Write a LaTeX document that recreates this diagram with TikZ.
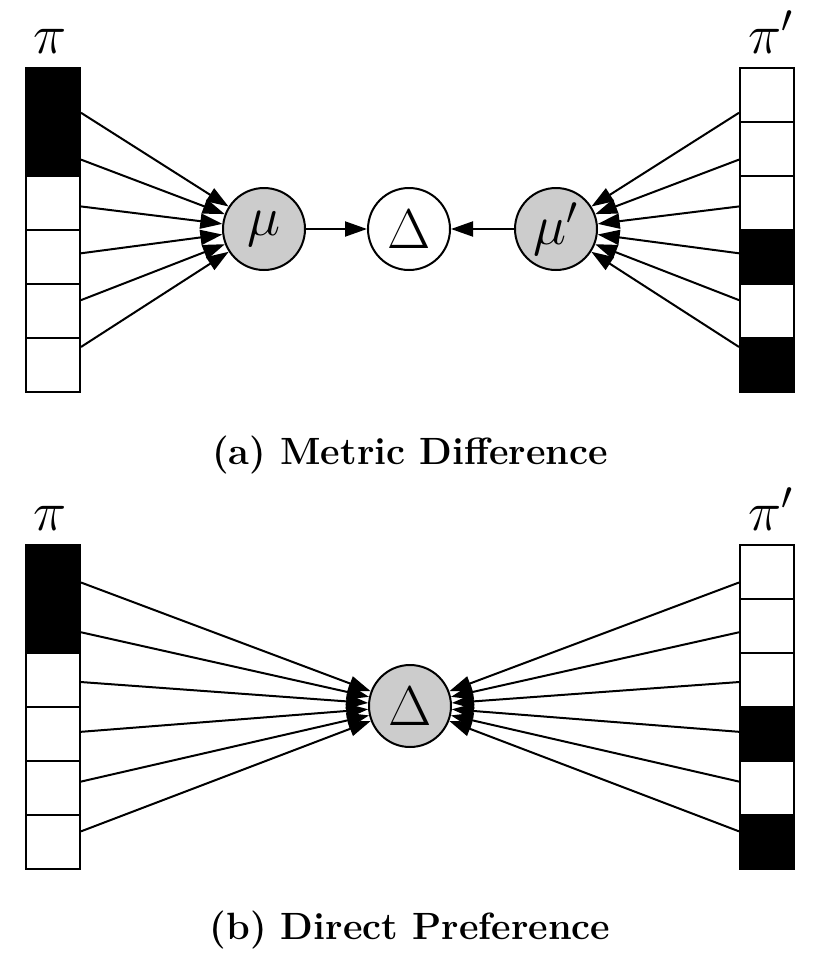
\documentclass[tikz,border=0pt]{standalone}
\usepackage{fix-cm}
\usepackage{amsmath}
\usepackage{amssymb}
\usepackage{tikz}
\usetikzlibrary{arrows.meta}
\tikzstyle{cell} = [draw, line width=1.0pt, minimum size=27pt, inner sep=0pt]
\tikzstyle{hit} = [cell, fill=black]
\tikzstyle{miss} = [cell, fill=white]
\tikzstyle{metric} = [circle, draw, line width=1.0pt, minimum size=41pt, inner sep=0pt, fill=gray!40, font=\fontsize{28}{32}\selectfont]
\tikzstyle{diff} = [metric, fill=white]
\tikzstyle{rank} = [anchor=base, inner sep=0pt, font=\fontsize{28}{32}\selectfont]
\tikzstyle{caption} = [anchor=base, font=\bfseries\fontsize{19}{23}\selectfont]
\tikzstyle{line} = [draw, -{Triangle[length=11pt,width=7.5pt]}, line width=1.0pt]

\begin{document}
\begin{tikzpicture}[x=0.5pt, y=-0.5pt]
	\useasboundingbox (0,0) rectangle (820,964);
	% -------------- (a) Metric Difference --------------
	\node[rank] (pia) at (50,53) {$\pi$};
	\node[hit]  (pa1) at (53,95)  {};
	\node[hit]  (pa2) at (53,149) {};
	\node[miss] (pa3) at (53,203) {};
	\node[miss] (pa4) at (53,257) {};
	\node[miss] (pa5) at (53,311) {};
	\node[miss] (pa6) at (53,365) {};
	\node[rank] (pipa) at (771,53) {$\pi'$};
	\node[miss] (qa1) at (767,95)  {};
	\node[miss] (qa2) at (767,149) {};
	\node[miss] (qa3) at (767,203) {};
	\node[hit]  (qa4) at (767,257) {};
	\node[miss] (qa5) at (767,311) {};
	\node[hit]  (qa6) at (767,365) {};
	\node[metric] (mu)  at (264,229) {$\mu$};
	\node[diff]   (da)  at (409,229) {$\Delta$};
	\node[metric] (mup) at (556,229) {$\mu'$};
	\draw[line] (pa1) -- (mu);
	\draw[line] (pa2) -- (mu);
	\draw[line] (pa3) -- (mu);
	\draw[line] (pa4) -- (mu);
	\draw[line] (pa5) -- (mu);
	\draw[line] (pa6) -- (mu);
	\draw[line] (qa1) -- (mup);
	\draw[line] (qa2) -- (mup);
	\draw[line] (qa3) -- (mup);
	\draw[line] (qa4) -- (mup);
	\draw[line] (qa5) -- (mup);
	\draw[line] (qa6) -- (mup);
	\draw[line] (mu)  -- (da);
	\draw[line] (mup) -- (da);
	\node[caption] (capa) at (410,464) {(a) Metric Difference};
	% -------------- (b) Direct Preference --------------
	\node[rank] (pib) at (50,530) {$\pi$};
	\node[hit]  (pb1) at (53,572) {};
	\node[hit]  (pb2) at (53,626) {};
	\node[miss] (pb3) at (53,680) {};
	\node[miss] (pb4) at (53,734) {};
	\node[miss] (pb5) at (53,788) {};
	\node[miss] (pb6) at (53,842) {};
	\node[rank] (pipb) at (771,530) {$\pi'$};
	\node[miss] (qb1) at (767,572) {};
	\node[miss] (qb2) at (767,626) {};
	\node[miss] (qb3) at (767,680) {};
	\node[hit]  (qb4) at (767,734) {};
	\node[miss] (qb5) at (767,788) {};
	\node[hit]  (qb6) at (767,842) {};
	\node[metric] (db) at (410,706) {$\Delta$};
	\draw[line] (pb1) -- (db);
	\draw[line] (pb2) -- (db);
	\draw[line] (pb3) -- (db);
	\draw[line] (pb4) -- (db);
	\draw[line] (pb5) -- (db);
	\draw[line] (pb6) -- (db);
	\draw[line] (qb1) -- (db);
	\draw[line] (qb2) -- (db);
	\draw[line] (qb3) -- (db);
	\draw[line] (qb4) -- (db);
	\draw[line] (qb5) -- (db);
	\draw[line] (qb6) -- (db);
	\node[caption] (capb) at (410,939) {(b) Direct Preference};
\end{tikzpicture}
\end{document}
